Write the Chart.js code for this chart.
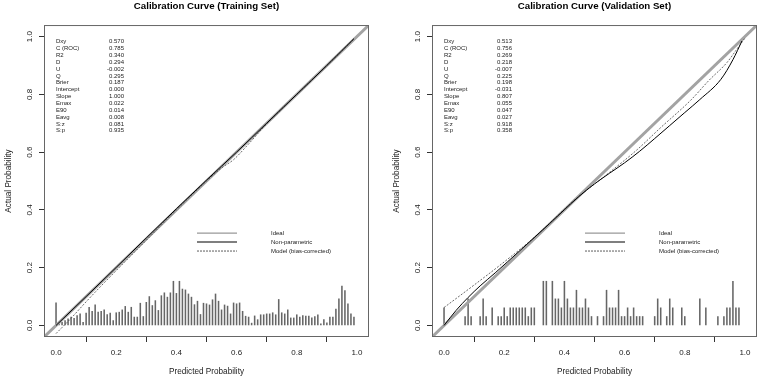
<!DOCTYPE html>
<html>
<head>
<meta charset="utf-8">
<script src="https://cdn.jsdelivr.net/npm/chart.js@4/dist/chart.umd.min.js"></script>
<style>
    html, body { margin: 0; padding: 0; background: #fff; }
    #wrap { position: relative; width: 760px; height: 379px; }
    canvas { position: absolute; top: 0; }
</style>
</head>
<body>
<div id="wrap">
    <canvas id="trainChart" width="380" height="379" style="left:0"></canvas>
    <canvas id="validChart" width="380" height="379" style="left:380px"></canvas>
</div>
<script>
// ticks of both axes
const tickValues = [0, 0.2, 0.4, 0.6, 0.8, 1.0];

// stats printed in the upper left corner
const statNames = ['Dxy', 'C (ROC)', 'R2', 'D', 'U', 'Q', 'Brier', 'Intercept', 'Slope', 'Emax', 'E90', 'Eavg', 'S:z', 'S:p'];
const trainStats = ['0.570', '0.785', '0.340', '0.294', '-0.002', '0.295', '0.187', '0.000', '1.000', '0.022', '0.014', '0.008', '0.081', '0.935'];
const validStats = ['0.513', '0.756', '0.269', '0.218', '-0.007', '0.225', '0.198', '-0.031', '0.807', '0.055', '0.047', '0.027', '0.918', '0.358'];

const legendLabels = ['Ideal', 'Non-parametric', 'Model (bias-corrected)'];

// training set curves
const trainNpX = [0.0, 0.1, 0.2, 0.3, 0.4, 0.5, 0.6, 0.7, 0.8, 0.9, 0.99];
const trainNpY = [0.0, 0.1, 0.201, 0.303, 0.404, 0.503, 0.6, 0.7, 0.8, 0.9, 0.993];
const trainBcX = [0.0, 0.05, 0.1, 0.15, 0.2, 0.3, 0.4, 0.5, 0.55, 0.59, 0.63, 0.7, 0.8, 0.9, 0.99];
const trainBcY = [-0.028, 0.025, 0.082, 0.137, 0.19, 0.295, 0.4, 0.5, 0.545, 0.574, 0.617, 0.698, 0.8, 0.9, 0.992];

// training set spike histogram, one spike every 0.01 starting at 0.00
const trainSpikeH = [
    0.078, 0.006, 0.011, 0.017, 0.023, 0.029, 0.025, 0.034, 0.040, 0.011,
    0.043, 0.063, 0.049, 0.071, 0.046, 0.049, 0.054, 0.038, 0.043, 0.017,
    0.044, 0.046, 0.054, 0.066, 0.046, 0.063, 0.029, 0.029, 0.077, 0.031,
    0.080, 0.100, 0.069, 0.086, 0.052, 0.103, 0.113, 0.098, 0.113, 0.153,
    0.111, 0.153, 0.126, 0.123, 0.109, 0.098, 0.072, 0.084, 0.038, 0.077,
    0.075, 0.071, 0.089, 0.109, 0.084, 0.054, 0.071, 0.067, 0.040, 0.078,
    0.075, 0.078, 0.049, 0.032, 0.029, 0.008, 0.033, 0.020, 0.037, 0.037,
    0.040, 0.040, 0.044, 0.037, 0.090, 0.044, 0.040, 0.054, 0.026, 0.026,
    0.037, 0.029, 0.034, 0.032, 0.032, 0.026, 0.031, 0.037, 0.006, 0.020,
    0.009, 0.029, 0.029, 0.057, 0.092, 0.136, 0.121, 0.075, 0.040, 0.029
];
const trainSpikeX = trainSpikeH.map((_, i) => i / 100);

// validation set curves
const validNpX = [0.0, 0.04, 0.08, 0.12, 0.17, 0.25, 0.35, 0.45, 0.5, 0.55, 0.6, 0.65, 0.7, 0.75, 0.8, 0.85, 0.92, 0.96, 0.99];
const validNpY = [0.0, 0.052, 0.097, 0.137, 0.182, 0.257, 0.352, 0.448, 0.49, 0.527, 0.563, 0.603, 0.647, 0.692, 0.737, 0.782, 0.852, 0.92, 0.985];
const validBcX = [0.0, 0.1, 0.2, 0.3, 0.44, 0.55, 0.64, 0.72, 0.82, 0.88, 0.94, 0.97, 1.0];
const validBcY = [0.062, 0.14, 0.22, 0.305, 0.44, 0.53, 0.607, 0.685, 0.78, 0.848, 0.91, 0.952, 0.995];

// validation set spikes
const validSpikeX = [0.00, 0.07, 0.08, 0.09, 0.12, 0.13, 0.14, 0.16, 0.18, 0.19, 0.20, 0.21, 0.22, 0.23, 0.24, 0.25, 0.26, 0.27, 0.28, 0.29, 0.30,
    0.33, 0.34, 0.36, 0.37, 0.38, 0.39, 0.40, 0.41, 0.42, 0.43, 0.44, 0.45, 0.46, 0.47, 0.48, 0.49,
    0.51, 0.53, 0.54, 0.55, 0.56, 0.57, 0.58, 0.59, 0.60, 0.61, 0.62, 0.63, 0.64, 0.65, 0.66,
    0.70, 0.71, 0.72, 0.74, 0.75, 0.76, 0.79, 0.80, 0.85, 0.87, 0.91, 0.93, 0.94, 0.95, 0.96, 0.97, 0.98];
const validSpikeH = [0.061, 0.031, 0.092, 0.031, 0.031, 0.092, 0.031, 0.061, 0.031, 0.031, 0.061, 0.031, 0.061, 0.061, 0.061, 0.061, 0.061, 0.061, 0.031, 0.061, 0.061,
    0.153, 0.153, 0.153, 0.092, 0.092, 0.061, 0.153, 0.092, 0.061, 0.061, 0.122, 0.061, 0.061, 0.092, 0.061, 0.031,
    0.031, 0.031, 0.122, 0.061, 0.061, 0.061, 0.122, 0.031, 0.031, 0.061, 0.031, 0.061, 0.031, 0.031, 0.031,
    0.031, 0.092, 0.061, 0.031, 0.092, 0.061, 0.061, 0.031, 0.092, 0.061, 0.031, 0.031, 0.061, 0.061, 0.153, 0.061, 0.061];

const FONT = "'Liberation Sans', Arial, Helvetica, sans-serif";
const toPoints = (xs, ys) => xs.map((x, i) => ({ x: x, y: ys[i] }));

// box, stats table and legend inside the plot region
const annotate = {
    id: 'annotate',
    afterDatasetsDraw(chart, args, opts) {
        const { ctx, chartArea: a } = chart;
        ctx.save();
        ctx.strokeStyle = '#666';
        ctx.lineWidth = 1;
        ctx.strokeRect(a.left + 0.5, a.top + 0.5, a.right - a.left - 1, a.bottom - a.top - 1);

        ctx.font = '6px ' + FONT;
        ctx.fillStyle = '#222';
        ctx.textBaseline = 'middle';
        opts.values.forEach((v, i) => {
            const y = a.top + 16.7 + i * 6.85;
            ctx.textAlign = 'left';
            ctx.fillText(statNames[i], a.left + 12, y);
            ctx.textAlign = 'right';
            ctx.fillText(v, a.left + 80, y);
        });

        // legend
        const styles = [
            { color: '#999', width: 1.2, dash: [] },
            { color: '#000', width: 1.1, dash: [] },
            { color: '#333', width: 0.8, dash: [2, 1] }
        ];
        legendLabels.forEach((lab, i) => {
            const y = a.top + 208 + i * 9;
            const s = styles[i];
            ctx.beginPath();
            ctx.setLineDash(s.dash);
            ctx.strokeStyle = s.color;
            ctx.lineWidth = s.width;
            ctx.moveTo(a.left + 153, y);
            ctx.lineTo(a.left + 193, y);
            ctx.stroke();
            ctx.setLineDash([]);
            ctx.textAlign = 'left';
            ctx.fillText(lab, a.left + 227, y);
        });
        ctx.restore();
    }
};

function makeChart(id, title, stats, npX, npY, bcX, bcY, spX, spH, yWidth, padRight, yTitlePad) {
    const ctx = document.getElementById(id).getContext('2d');
    return new Chart(ctx, {
        type: 'scatter',
        data: {
            datasets: [
                {
                    label: 'Non-parametric',
                    data: toPoints(npX, npY),
                    showLine: true,
                    borderColor: '#000',
                    borderWidth: 1,
                    pointRadius: 0,
                    cubicInterpolationMode: 'monotone',
                    order: 1
                },
                {
                    label: 'Model (bias-corrected)',
                    data: toPoints(bcX, bcY),
                    showLine: true,
                    borderColor: '#444',
                    borderWidth: 0.8,
                    borderDash: [2, 1.5],
                    pointRadius: 0,
                    cubicInterpolationMode: 'monotone',
                    order: 2
                },
                {
                    label: 'Ideal',
                    data: [{ x: -0.04, y: -0.04 }, { x: 1.04, y: 1.04 }],
                    showLine: true,
                    borderColor: '#a3a3a3',
                    borderWidth: 3,
                    pointRadius: 0,
                    order: 3
                },
                {
                    type: 'bar',
                    label: 'Spikes',
                    data: toPoints(spX, spH),
                    backgroundColor: '#666',
                    barThickness: 0.9,
                    grouped: false,
                    order: 4
                }
            ]
        },
        options: {
            responsive: false,
            animation: false,
            layout: { padding: { left: 0, right: padRight, top: 0, bottom: 0 } },
            scales: {
                x: {
                    type: 'linear',
                    min: -0.04,
                    max: 1.04,
                    offset: false,
                    afterBuildTicks: (scale) => { scale.ticks = tickValues.map(v => ({ value: v })); },
                    afterFit: (scale) => { scale.height = 42; },
                    ticks: {
                        color: '#222',
                        font: { family: FONT, size: 8 },
                        padding: 6,
                        maxRotation: 0,
                        callback: (v) => v.toFixed(1)
                    },
                    grid: { drawOnChartArea: false, drawTicks: true, tickLength: 5, color: '#333' },
                    border: { display: false },
                    title: {
                        display: true,
                        text: 'Predicted Probability',
                        color: '#222',
                        font: { family: FONT, size: 8.2 },
                        padding: { top: 0, bottom: 2.2 }
                    }
                },
                y: {
                    type: 'linear',
                    min: -0.04,
                    max: 1.04,
                    afterBuildTicks: (scale) => { scale.ticks = tickValues.map(v => ({ value: v })); },
                    afterFit: (scale) => { scale.width = yWidth; },
                    ticks: {
                        color: '#222',
                        font: { family: FONT, size: 8 },
                        padding: 3.5,
                        minRotation: 90,
                        maxRotation: 90,
                        crossAlign: 'center',
                        callback: (v) => v.toFixed(1)
                    },
                    grid: { drawOnChartArea: false, drawTicks: true, tickLength: 5, color: '#333' },
                    border: { display: false },
                    title: {
                        display: true,
                        text: 'Actual Probability',
                        color: '#222',
                        font: { family: FONT, size: 8.2 },
                        padding: { top: yTitlePad, bottom: 0 }
                    }
                }
            },
            plugins: {
                legend: { display: false },
                tooltip: { enabled: false },
                title: {
                    display: true,
                    text: title,
                    fullSize: false,
                    color: '#000',
                    font: { family: FONT, size: 9.7, weight: 'bold' },
                    padding: { top: 0.8, bottom: 12.6 }
                },
                annotate: { values: stats }
            }
        },
        plugins: [annotate]
    });
}

makeChart('trainChart', 'Calibration Curve (Training Set)', trainStats,
    trainNpX, trainNpY, trainBcX, trainBcY, trainSpikeX, trainSpikeH, 44, 11, 4.2);
makeChart('validChart', 'Calibration Curve (Validation Set)', validStats,
    validNpX, validNpY, validBcX, validBcY, validSpikeX, validSpikeH, 52, 3, 11.7);
</script>
</body>
</html>
